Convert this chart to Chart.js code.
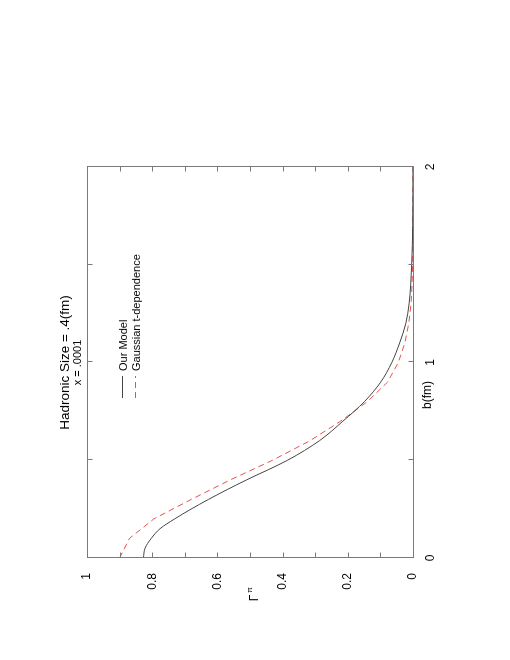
<!DOCTYPE html>
<html>
<head>
<meta charset="utf-8">
<script src="https://cdn.jsdelivr.net/npm/chart.js@4.4.1/dist/chart.umd.min.js"></script>
<style>
  html, body { margin: 0; padding: 0; background: #fff; }
  body { width: 510px; height: 660px; overflow: hidden; position: relative; }
  /* o gráfico original está girado 90° no sentido anti-horário */
  #wrap { position: absolute; left: 0; top: 0; width: 660px; height: 510px;
          transform-origin: 0 0; transform: translate(0, 660px) rotate(-90deg); }
</style>
</head>
<body>
<div id="wrap"><canvas id="grafico" width="660" height="510"></canvas></div>
<script>
// Dados
const bModelo = [0, 0.05, 0.1, 0.15, 0.2, 0.25, 0.3, 0.35, 0.4, 0.5, 0.6, 0.7, 0.8, 0.9, 1.0, 1.1, 1.2, 1.3, 1.4, 1.5, 1.6, 1.7, 1.8, 1.9, 2.0]
const gamaModelo = [0.827, 0.822, 0.803, 0.776, 0.731, 0.681, 0.627, 0.570, 0.510, 0.385, 0.287, 0.215, 0.149, 0.099, 0.065, 0.041, 0.022, 0.012, 0.007, 0.004, 0.002, 0.001, 0.0005, 0.0002, 0.0001]

const bGauss = [0, 0.1, 0.2, 0.3, 0.4, 0.5, 0.6, 0.7, 0.8, 0.9, 1.0, 1.1, 1.2, 1.3, 1.4, 1.5, 1.6, 1.7, 1.8, 1.9, 2.0]
const gamaGauss = [0.900, 0.870, 0.795, 0.680, 0.560, 0.431, 0.316, 0.222, 0.140, 0.078, 0.045, 0.025, 0.013, 0.006, 0.003, 0.001, 0.0005, 0.0002, 0.0001, 0, 0]

const rotulos = ["Our Model", "Gaussian t-dependence"]
const titulo = "Hadronic Size = .4(fm)"
const subtitulo = "x = .0001"

const fonte = "'Liberation Sans', Arial, sans-serif"
const corModelo = "#444444"
const corGauss = "#e8504f"

function pares(xs, ys) {
  return xs.map((x, i) => ({ x: x, y: ys[i] }))
}

// Moldura, marcas internas e textos (estilo gnuplot)
const pluginMoldura = {
  id: "moldura",
  afterDraw(chart) {
    const { ctx, chartArea: a, scales } = chart
    const sx = scales.x, sy = scales.y
    ctx.save()
    ctx.strokeStyle = "#7a7a7a"
    ctx.lineWidth = 1
    const L = Math.round(a.left) + 0.5, R = Math.round(a.right) + 0.5
    const T = Math.round(a.top) + 0.5, B = Math.round(a.bottom) + 0.5
    ctx.strokeRect(L, T, R - L, B - T)
    ctx.beginPath()
    sx.ticks.forEach(t => {
      const px = Math.round(sx.getPixelForValue(t.value)) + 0.5
      ctx.moveTo(px, B); ctx.lineTo(px, B - 5)
      ctx.moveTo(px, T); ctx.lineTo(px, T + 5)
    })
    sy.ticks.forEach(t => {
      const py = Math.round(sy.getPixelForValue(t.value)) + 0.5
      ctx.moveTo(L, py); ctx.lineTo(L + 5, py)
      ctx.moveTo(R, py); ctx.lineTo(R - 5, py)
    })
    ctx.stroke()

    // títulos
    const cx = (a.left + a.right) / 2
    ctx.fillStyle = "#000"
    ctx.textAlign = "center"
    ctx.textBaseline = "alphabetic"
    ctx.font = "13.5px " + fonte
    ctx.fillText(titulo, cx, 69)
    ctx.font = "11px " + fonte
    ctx.fillText(subtitulo, cx, 81)

    // legenda
    ctx.textAlign = "left"
    ctx.font = "11px " + fonte
    ctx.strokeStyle = corModelo
    ctx.beginPath(); ctx.moveTo(262, 122.5); ctx.lineTo(284, 122.5); ctx.stroke()
    ctx.fillText(rotulos[0], 289, 126.5)
    ctx.strokeStyle = corGauss
    ctx.setLineDash([6, 4])
    ctx.beginPath(); ctx.moveTo(262, 135.5); ctx.lineTo(284, 135.5); ctx.stroke()
    ctx.setLineDash([])
    ctx.fillText(rotulos[1], 289, 139.5)

    // títulos dos eixos
    ctx.font = "12px " + fonte
    ctx.textAlign = "center"
    ctx.fillText("b(fm)", 265, 431)
    ctx.fillText("\u0393", 62, 258)
    ctx.font = "8px " + fonte
    ctx.fillText("\u03c0", 70, 252)
    ctx.restore()
  }
}

const grafico = new Chart(document.getElementById("grafico"), {
  type: "line",
  data: {
    datasets: [
      {
        label: rotulos[0],
        data: pares(bModelo, gamaModelo),
        borderColor: corModelo,
        borderWidth: 1,
        pointRadius: 0,
        cubicInterpolationMode: "monotone",
      },
      {
        label: rotulos[1],
        data: pares(bGauss, gamaGauss),
        borderColor: corGauss,
        borderWidth: 1,
        borderDash: [6, 4],
        pointRadius: 0,
        tension: 0,
      },
    ],
  },
  options: {
    responsive: false,
    animation: false,
    layout: { padding: { top: 87, right: 167, left: 0, bottom: 0 } },
    plugins: { legend: { display: false }, tooltip: { enabled: false } },
    scales: {
      x: {
        type: "linear",
        min: 0,
        max: 2,
        grid: { display: false },
        border: { display: false },
        afterFit: s => { s.height = 97 },
        ticks: {
          stepSize: 0.5,
          padding: 2,
          color: "#000",
          maxRotation: 0,
          autoSkip: false,
          font: { family: fonte, size: 12 },
          callback: v => (v % 1 === 0 ? String(v) : ""),
        },
      },
      y: {
        min: 0,
        max: 1,
        grid: { display: false },
        border: { display: false },
        afterFit: s => { s.width = 102 },
        ticks: {
          stepSize: 0.1,
          padding: 7,
          color: "#000",
          autoSkip: false,
          font: { family: fonte, size: 12 },
          callback: v => (Math.round(v * 10) % 2 === 0 ? String(Math.round(v * 10) / 10) : ""),
        },
      },
    },
  },
  plugins: [pluginMoldura],
})
</script>
</body>
</html>
